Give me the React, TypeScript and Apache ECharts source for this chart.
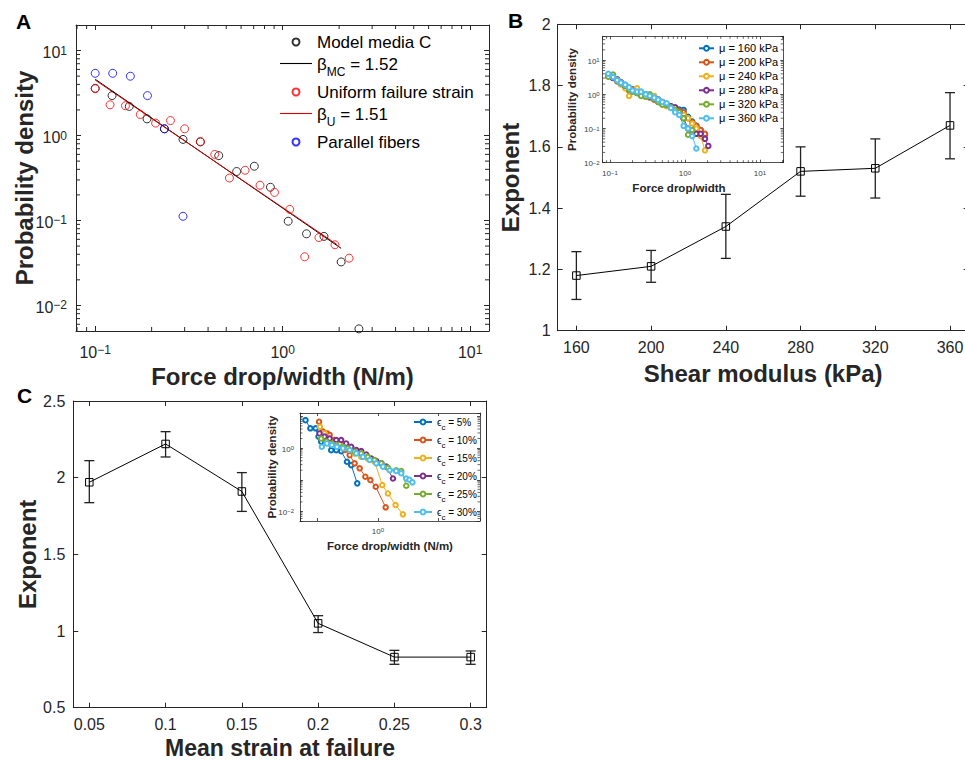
import React, { useEffect, useRef } from 'react';
import * as echarts from 'echarts';

const FONT = '"Liberation Sans", Arial, Helvetica, sans-serif';
const AX = '#262626';

// ---------- Panel A ----------
const aModelX = [0.1, 0.123, 0.152, 0.189, 0.234, 0.294, 0.364, 0.456, 0.568, 0.706, 0.86, 1.07, 1.34, 1.66, 2.05, 2.55];
const aModelY = [3.6, 2.95, 2.2, 1.57, 1.2, 0.9, 0.84, 0.58, 0.377, 0.435, 0.246, 0.098, 0.0697, 0.065, 0.0325, 0.0053];
const aUniformX = [0.1, 0.12, 0.145, 0.174, 0.21, 0.252, 0.3, 0.364, 0.434, 0.52, 0.63, 0.757, 0.905, 1.09, 1.31, 1.56, 1.9, 2.26];
const aUniformY = [3.55, 2.3, 2.24, 1.77, 1.4, 1.5, 1.2, 0.85, 0.6, 0.316, 0.39, 0.26, 0.214, 0.135, 0.0374, 0.063, 0.0518, 0.036];
const aParallelX = [0.1, 0.124, 0.154, 0.19, 0.234, 0.294];
const aParallelY = [5.4, 5.4, 4.99, 2.95, 1.2, 0.112];
const aFitMCX = [0.1, 2.05];
const aFitMCY = [4.6, 0.047];
const aFitUX = [0.1, 1.95];
const aFitUY = [4.5, 0.052];
const aMinorX = [0.08, 0.09, 0.2, 0.3, 0.4, 0.5, 0.6, 0.7, 0.8, 0.9, 2, 3, 4, 5, 6, 7, 8, 9];
const aMinorY = [0.006, 0.007, 0.008, 0.009, 0.02, 0.03, 0.04, 0.05, 0.06, 0.07, 0.08, 0.09, 0.2, 0.3, 0.4, 0.5, 0.6, 0.7, 0.8, 0.9, 2, 3, 4, 5, 6, 7, 8, 9];

// ---------- Panel B ----------
const bX = [160, 200, 240, 280, 320, 360];
const bExp = [1.18, 1.21, 1.34, 1.52, 1.53, 1.67];
const bLo = [1.102, 1.158, 1.236, 1.439, 1.433, 1.561];
const bHi = [1.258, 1.262, 1.445, 1.6, 1.626, 1.777];
const bTicks = [160, 200, 240, 280, 320, 360];

// Panel B inset
const binsB = [0.095, 0.11, 0.125, 0.14, 0.16, 0.18, 0.2, 0.23, 0.26, 0.3, 0.34, 0.39, 0.44, 0.5, 0.57, 0.65, 0.74, 0.84, 0.96, 1.1, 1.25, 1.42, 1.62, 1.85, 2.05];
const mu160 = [3.6, 3.0, 2.6, 2.0, 1.9, 1.5, 1.4, 1.2, 1.0, 1.0, 0.8, 0.8, 0.6, 0.55, 0.5, 0.45, 0.38, 0.36, 0.35, 0.22, 0.16, 0.12, 0.09, 0.066];
const mu200 = [3.5, 3.1, 2.4, 2.3, 1.7, 1.3, 1.4, 1.1, 1.1, 0.9, 0.9, 0.7, 0.7, 0.6, 0.5, 0.42, 0.4, 0.33, 0.3, 0.2, 0.15, 0.12, 0.09, 0.07];
const mu240 = [3.7, 3.3, 2.8, 2.0, 1.5, 0.9, 1.3, 1.5, 1.0, 0.85, 0.8, 0.9, 0.62, 0.52, 0.45, 0.4, 0.36, 0.28, 0.25, 0.2, 0.14, 0.1, 0.06, 0.023];
const mu280 = [3.4, 3.0, 2.7, 2.2, 1.8, 1.5, 1.3, 1.1, 1.05, 0.95, 0.85, 0.75, 0.7, 0.55, 0.5, 0.45, 0.42, 0.3, 0.2, 0.1, 0.075, 0.07, 0.07, 0.05, 0.031];
const mu320 = [3.3, 3.8, 2.5, 2.1, 1.8, 1.4, 1.2, 1.1, 0.9, 0.85, 1.0, 0.75, 0.6, 0.5, 0.5, 0.42, 0.35, 0.3, 0.2, 0.066, 0.09];
const mu360 = [4.0, 3.2, 2.6, 2.2, 1.9, 1.6, 1.3, 1.2, 1.2, 1.0, 0.9, 0.8, 0.7, 0.6, 0.55, 0.4, 0.3, 0.25, 0.12, 0.1, 0.06, 0.026];
const bInNames = ['\u03bc = 160 kPa', '\u03bc = 200 kPa', '\u03bc = 240 kPa', '\u03bc = 280 kPa', '\u03bc = 320 kPa', '\u03bc = 360 kPa'];
const bInMinorX = [0.09, 0.2, 0.3, 0.4, 0.5, 0.6, 0.7, 0.8, 0.9, 2, 3, 4, 5, 6, 7, 8, 9, 20];
const bInMinorY = [0.02, 0.03, 0.04, 0.05, 0.06, 0.07, 0.08, 0.09, 0.2, 0.3, 0.4, 0.5, 0.6, 0.7, 0.8, 0.9, 2, 3, 4, 5, 6, 7, 8, 9, 20, 30, 40];

// ---------- Panel C ----------
const cX = [0.05, 0.1, 0.15, 0.2, 0.25, 0.3];
const cExp = [1.97, 2.22, 1.91, 1.05, 0.83, 0.83];
const cLo = [1.837, 2.135, 1.78, 0.99, 0.783, 0.783];
const cHi = [2.111, 2.3, 2.033, 1.1, 0.874, 0.87];
const cTicks = [0.05, 0.1, 0.15, 0.2, 0.25, 0.3];

// Panel C inset
const ec5X = [0.064, 0.077, 0.094, 0.105, 0.116, 0.144, 0.17, 0.206, 0.248, 0.309, 0.363, 0.456];
const ec5Y = [7.6, 4.2, 4.2, 2.3, 1.6, 1.5, 0.86, 0.86, 0.8, 0.37, 0.29, 0.077];
const ec10X = [0.107, 0.124, 0.145, 0.16, 0.193, 0.233, 0.283, 0.342, 0.413, 0.5, 0.62, 0.75, 0.92, 1.34];
const ec10Y = [6.8, 3.3, 2.9, 2.6, 1.8, 1.25, 0.87, 0.6, 0.33, 0.23, 0.125, 0.098, 0.06, 0.0135];
const ec15X = [0.111, 0.132, 0.16, 0.193, 0.233, 0.283, 0.342, 0.413, 0.53, 0.68, 0.88, 1.18, 1.46, 1.95, 2.58];
const ec15Y = [4.7, 2.9, 2.0, 1.6, 1.4, 1.25, 0.87, 0.68, 0.53, 0.47, 0.37, 0.068, 0.037, 0.016, 0.0081];
const ec20X = [0.109, 0.132, 0.16, 0.206, 0.248, 0.3, 0.363, 0.44, 0.53, 0.643, 0.777, 0.94, 1.14, 1.37, 1.77];
const ec20Y = [2.9, 2.3, 2.0, 1.8, 1.8, 1.4, 1.1, 0.87, 0.8, 0.63, 0.47, 0.39, 0.33, 0.26, 0.11];
const ec25X = [0.116, 0.141, 0.17, 0.206, 0.265, 0.32, 0.413, 0.53, 0.68, 0.88, 1.14, 1.46, 2.0, 2.42, 2.93];
const ec25Y = [2.0, 1.6, 1.4, 1.25, 1.1, 0.98, 0.77, 0.68, 0.53, 0.42, 0.33, 0.24, 0.2, 0.19, 0.065];
const ec30X = [0.119, 0.144, 0.174, 0.211, 0.265, 0.342, 0.44, 0.567, 0.73, 0.94, 1.21, 1.56, 2.0, 2.42, 2.93, 3.3, 3.7];
const ec30Y = [1.1, 1.4, 1.25, 1.1, 0.98, 0.87, 0.68, 0.53, 0.42, 0.33, 0.26, 0.2, 0.19, 0.16, 0.11, 0.1, 0.083];
const cInNames = ['ec5', 'ec10', 'ec15', 'ec20', 'ec25', 'ec30'];
const cInLabels = ['5%', '10%', '15%', '20%', '25%', '30%'];
const cInMinorY = [0.006, 0.007, 0.008, 0.009, 0.02, 0.03, 0.04, 0.05, 0.06, 0.07, 0.08, 0.09, 0.2, 0.3, 0.4, 0.5, 0.6, 0.7, 0.8, 0.9, 2, 3, 4, 5, 6, 7, 8, 9];

const MATLAB = ['#0072BD', '#D95319', '#EDB120', '#7E2F8E', '#77AC30', '#4DBEEE'];

function pairs(xs: number[], ys: number[]) {
  return ys.map((y, i) => [xs[i], y]);
}

function logFmt(filter?: (e: number) => boolean) {
  return (v: number) => {
    const e = Math.log10(v);
    const r = Math.round(e);
    if (Math.abs(e - r) > 1e-6) return '';
    if (filter && !filter(r)) return '';
    return `{b|10}{s|${r < 0 ? '\u2212' + -r : r}}`;
  };
}

const richMain = {
  b: { fontFamily: FONT, fontSize: 16, lineHeight: 16, padding: [4, 0, 0, 0], color: AX },
  s: { fontFamily: FONT, fontSize: 12, lineHeight: 12, verticalAlign: 'top', padding: [2, 0, 0, 0], color: AX },
};
const richInset = {
  b: { fontFamily: FONT, fontSize: 8, lineHeight: 8, padding: [2, 0, 0, 0], color: '#404040' },
  s: { fontFamily: FONT, fontSize: 6, lineHeight: 6, verticalAlign: 'top', padding: [1, 0, 0, 0], color: '#404040' },
};

function tick(len: number, w = 1, custom?: number[]) {
  const t: any = { show: true, inside: true, length: len, lineStyle: { color: AX, width: w } };
  if (custom) t.customValues = custom;
  return t;
}
function line(w = 1) {
  return { show: true, onZero: false, lineStyle: { color: AX, width: w } };
}
function nameStyle(size: number, extra: any = {}) {
  return { fontFamily: FONT, fontSize: size, fontWeight: 'bold', color: AX, ...extra };
}

function errorSeries(xs: number[], lo: number[], hi: number[], xi: number, yi: number) {
  return {
    type: 'custom',
    xAxisIndex: xi,
    yAxisIndex: yi,
    silent: true,
    z: 3,
    encode: { x: 0, y: [1, 2] },
    data: xs.map((v, i) => [v, lo[i], hi[i]]),
    renderItem: (params: any, api: any) => {
      const xv = api.value(0);
      const pl = api.coord([xv, api.value(1)]);
      const ph = api.coord([xv, api.value(2)]);
      const w = 5;
      const style = { stroke: '#222', lineWidth: 1.3 };
      return {
        type: 'group',
        children: [
          { type: 'line', shape: { x1: pl[0], y1: pl[1], x2: ph[0], y2: ph[1] }, style },
          { type: 'line', shape: { x1: pl[0] - w, y1: pl[1], x2: pl[0] + w, y2: pl[1] }, style },
          { type: 'line', shape: { x1: ph[0] - w, y1: ph[1], x2: ph[0] + w, y2: ph[1] }, style },
        ],
      };
    },
  };
}

function minorTicks(xi: number, yi: number, xs: number[], ys: number[], len: number, w = 1) {
  const data = [...xs.map((v) => [v, 1, 0]), ...ys.map((v) => [1, v, 1])];
  return {
    type: 'custom',
    xAxisIndex: xi,
    yAxisIndex: yi,
    silent: true,
    clip: false,
    z: 4,
    encode: { x: 0, y: 1 },
    data,
    renderItem: (params: any, api: any) => {
      const cs = params.coordSys;
      const p = api.coord([api.value(0), api.value(1)]);
      const style = { stroke: AX, lineWidth: w };
      if (api.value(2) === 0) {
        return {
          type: 'group',
          children: [
            { type: 'line', shape: { x1: p[0], y1: cs.y + cs.height, x2: p[0], y2: cs.y + cs.height - len }, style },
            { type: 'line', shape: { x1: p[0], y1: cs.y, x2: p[0], y2: cs.y + len }, style },
          ],
        };
      }
      return {
        type: 'group',
        children: [
          { type: 'line', shape: { x1: cs.x, y1: p[1], x2: cs.x + len, y2: p[1] }, style },
          { type: 'line', shape: { x1: cs.x + cs.width, y1: p[1], x2: cs.x + cs.width - len, y2: p[1] }, style },
        ],
      };
    },
  };
}

function buildOption() {
  const grids = [
    { left: 76, top: 25, width: 413, height: 306 },
    { left: 557.7, top: 24.3, width: 411, height: 306.4 },
    { left: 73.3, top: 401, width: 413.4, height: 306.7 },
    { left: 602.7, top: 36.3, width: 180.6, height: 126.4, show: true, backgroundColor: '#fff', borderWidth: 0 },
    { left: 300, top: 413, width: 180, height: 108, show: true, backgroundColor: '#fff', borderWidth: 0 },
  ].map((g) => ({ ...g, containLabel: false, outerBoundsMode: 'none' }));

  const common = { splitLine: { show: false }, minorTick: { show: false }, nameMoveOverlap: false };

  const xAxis: any[] = [
    // 0 A bottom
    {
      ...common, type: 'log', logBase: 10, gridIndex: 0, position: 'bottom', min: 0.079, max: 12.6,
      axisLine: line(), axisTick: tick(5),
      axisLabel: { formatter: logFmt(), rich: richMain, margin: 11 },
      name: 'Force drop/width (N/m)', nameLocation: 'middle', nameGap: 33, nameTextStyle: nameStyle(24),
    },
    // 1 A top
    { ...common, type: 'log', logBase: 10, gridIndex: 0, position: 'top', min: 0.079, max: 12.6, axisLine: line(), axisTick: tick(5), axisLabel: { show: false } },
    // 2 B bottom
    {
      ...common, type: 'value', gridIndex: 1, position: 'bottom', min: 150, max: 370,
      axisLine: line(), axisTick: tick(5, 1, bTicks),
      axisLabel: { customValues: bTicks, fontFamily: FONT, fontSize: 16, color: AX, margin: 9 },
      name: 'Shear modulus (kPa)', nameLocation: 'middle', nameGap: 31, nameTextStyle: nameStyle(24),
    },
    // 3 B top
    { ...common, type: 'value', gridIndex: 1, position: 'top', min: 150, max: 370, axisLine: line(), axisTick: tick(5, 1, bTicks), axisLabel: { show: false } },
    // 4 C bottom
    {
      ...common, type: 'value', gridIndex: 2, position: 'bottom', min: 0.0395, max: 0.3105,
      axisLine: line(), axisTick: tick(5, 1, cTicks),
      axisLabel: { customValues: cTicks, fontFamily: FONT, fontSize: 16, color: AX, margin: 9 },
      name: 'Mean strain at failure', nameLocation: 'middle', nameGap: 30, nameTextStyle: nameStyle(23, { lineHeight: 20 }),
    },
    // 5 C top
    { ...common, type: 'value', gridIndex: 2, position: 'top', min: 0.0395, max: 0.3105, axisLine: line(), axisTick: tick(5, 1, cTicks), axisLabel: { show: false } },
    // 6 B inset bottom
    {
      ...common, type: 'log', logBase: 10, gridIndex: 3, position: 'bottom', min: 0.08, max: 20.5,
      axisLine: line(0.8), axisTick: tick(3, 0.8),
      axisLabel: { formatter: logFmt(), rich: richInset, margin: 6 },
      name: 'Force drop/width', nameLocation: 'middle', nameGap: 19, nameTextStyle: nameStyle(11.5, { padding: [0, 28, 0, 0] }),
    },
    // 7 B inset top
    { ...common, type: 'log', logBase: 10, gridIndex: 3, position: 'top', min: 0.08, max: 20.5, axisLine: line(0.8), axisTick: tick(3, 0.8), axisLabel: { show: false } },
    // 8 C inset bottom
    {
      ...common, type: 'log', logBase: 10, gridIndex: 4, position: 'bottom', min: 0.052, max: 48,
      axisLine: line(0.8), axisTick: tick(3, 0.8),
      axisLabel: { formatter: logFmt((e) => e === 0), rich: richInset, margin: 5 },
      name: 'Force drop/width (N/m)', nameLocation: 'middle', nameGap: 19, nameTextStyle: nameStyle(11.5),
    },
    // 9 C inset top
    { ...common, type: 'log', logBase: 10, gridIndex: 4, position: 'top', min: 0.052, max: 48, axisLine: line(0.8), axisTick: tick(3, 0.8), axisLabel: { show: false } },
  ];

  const yAxis: any[] = [
    // 0 A left
    {
      ...common, type: 'log', logBase: 10, gridIndex: 0, position: 'left', min: 0.005, max: 20,
      axisLine: line(), axisTick: tick(5),
      axisLabel: { formatter: logFmt(), rich: richMain, margin: 9 },
      name: 'Probability density', nameLocation: 'middle', nameGap: 40, nameTextStyle: nameStyle(24),
    },
    // 1 A right
    { ...common, type: 'log', logBase: 10, gridIndex: 0, position: 'right', min: 0.005, max: 20, axisLine: line(), axisTick: tick(5), axisLabel: { show: false } },
    // 2 B left
    {
      ...common, type: 'value', gridIndex: 1, position: 'left', min: 1, max: 2, interval: 0.2,
      axisLine: line(), axisTick: tick(5),
      axisLabel: { fontFamily: FONT, fontSize: 16, color: AX, margin: 7 },
      name: 'Exponent', nameLocation: 'middle', nameGap: 35, nameTextStyle: nameStyle(24),
    },
    // 3 B right
    { ...common, type: 'value', gridIndex: 1, position: 'right', min: 1, max: 2, interval: 0.2, axisLine: line(), axisTick: tick(5), axisLabel: { show: false } },
    // 4 C left
    {
      ...common, type: 'value', gridIndex: 2, position: 'left', min: 0.5, max: 2.5, interval: 0.5,
      axisLine: line(), axisTick: tick(5),
      axisLabel: { fontFamily: FONT, fontSize: 16, color: AX, margin: 8 },
      name: 'Exponent', nameLocation: 'middle', nameGap: 34, nameTextStyle: nameStyle(24),
    },
    // 5 C right
    { ...common, type: 'value', gridIndex: 2, position: 'right', min: 0.5, max: 2.5, interval: 0.5, axisLine: line(), axisTick: tick(5), axisLabel: { show: false } },
    // 6 B inset left
    {
      ...common, type: 'log', logBase: 10, gridIndex: 3, position: 'left', min: 0.01, max: 50,
      axisLine: line(0.8), axisTick: tick(3, 0.8),
      axisLabel: { formatter: logFmt(), rich: richInset, margin: 3 },
      name: 'Probability density', nameLocation: 'middle', nameGap: 25, nameTextStyle: nameStyle(11.5),
    },
    // 7 B inset right
    { ...common, type: 'log', logBase: 10, gridIndex: 3, position: 'right', min: 0.01, max: 50, axisLine: line(0.8), axisTick: tick(3, 0.8), axisLabel: { show: false } },
    // 8 C inset left
    {
      ...common, type: 'log', logBase: 10, gridIndex: 4, position: 'left', min: 0.005, max: 12.8,
      axisLine: line(0.8), axisTick: tick(3, 0.8),
      axisLabel: { formatter: logFmt((e) => e % 2 === 0), rich: richInset, margin: 6 },
      name: 'Probability density', nameLocation: 'middle', nameGap: 22, nameTextStyle: nameStyle(11.5),
    },
    // 9 C inset right
    { ...common, type: 'log', logBase: 10, gridIndex: 4, position: 'right', min: 0.005, max: 12.8, axisLine: line(0.8), axisTick: tick(3, 0.8), axisLabel: { show: false } },
  ];

  const hollow = (c: string) => ({ color: 'rgba(255,255,255,0)', borderColor: c, borderWidth: 1 });

  const series: any[] = [
    // Panel A
    { name: 'Model media C', type: 'scatter', xAxisIndex: 0, yAxisIndex: 0, symbol: 'circle', symbolSize: 8, itemStyle: hollow('#000'), data: pairs(aModelX, aModelY), z: 3 },
    { name: 'beta_MC', type: 'line', xAxisIndex: 0, yAxisIndex: 0, symbol: 'none', showSymbol: false, lineStyle: { color: '#000', width: 1 }, itemStyle: { color: '#000' }, data: pairs(aFitMCX, aFitMCY), z: 3 },
    { name: 'Uniform failure strain', type: 'scatter', xAxisIndex: 0, yAxisIndex: 0, symbol: 'circle', symbolSize: 8, itemStyle: hollow('#ff0000'), data: pairs(aUniformX, aUniformY), z: 3 },
    { name: 'beta_U', type: 'line', xAxisIndex: 0, yAxisIndex: 0, symbol: 'none', showSymbol: false, lineStyle: { color: '#e00000', width: 1 }, itemStyle: { color: '#e00000' }, data: pairs(aFitUX, aFitUY), z: 3 },
    { name: 'Parallel fibers', type: 'scatter', xAxisIndex: 0, yAxisIndex: 0, symbol: 'circle', symbolSize: 8, itemStyle: hollow('#0000ff'), data: pairs(aParallelX, aParallelY), z: 3 },
    minorTicks(0, 0, aMinorX, aMinorY, 4),
    // Panel B
    errorSeries(bX, bLo, bHi, 2, 2),
    { name: 'bMain', type: 'line', xAxisIndex: 2, yAxisIndex: 2, symbol: 'rect', symbolSize: 7.5, itemStyle: hollow('#000'), lineStyle: { color: '#000', width: 1 }, data: pairs(bX, bExp), z: 4 },
    // Panel C
    errorSeries(cX, cLo, cHi, 4, 4),
    { name: 'cMain', type: 'line', xAxisIndex: 4, yAxisIndex: 4, symbol: 'rect', symbolSize: 7.5, itemStyle: hollow('#000'), lineStyle: { color: '#000', width: 1 }, data: pairs(cX, cExp), z: 4 },
  ];

  // B inset
  const bInY = [mu160, mu200, mu240, mu280, mu320, mu360];
  bInY.forEach((ys, i) => {
    series.push({
      name: bInNames[i], type: 'line', xAxisIndex: 6, yAxisIndex: 6, symbol: 'emptyCircle', symbolSize: 4.5,
      itemStyle: { color: MATLAB[i], borderWidth: 0.9 }, lineStyle: { color: MATLAB[i], width: 1 },
      data: pairs(binsB, ys), z: 5,
    });
  });
  series.push(minorTicks(6, 6, bInMinorX, bInMinorY, 2.5, 0.7));

  // C inset
  const cInX = [ec5X, ec10X, ec15X, ec20X, ec25X, ec30X];
  const cInY = [ec5Y, ec10Y, ec15Y, ec20Y, ec25Y, ec30Y];
  cInX.forEach((xs, i) => {
    series.push({
      name: cInNames[i], type: 'line', xAxisIndex: 8, yAxisIndex: 8, symbol: 'emptyCircle', symbolSize: 4.5,
      itemStyle: { color: MATLAB[i], borderWidth: 0.9 }, lineStyle: { color: MATLAB[i], width: 1 },
      data: pairs(xs, cInY[i]), z: 5,
    });
  });
  series.push(minorTicks(8, 8, [], cInMinorY, 2.5, 0.7));

  const lineIcon = 'path://M0,0 L32,0 L32,1.1 L0,1.1 Z';
  const legendALabels: Record<string, string> = {
    'Model media C': 'Model media C',
    beta_MC: '{m|\u03b2}{sub|MC}{m| = 1.52}',
    'Uniform failure strain': 'Uniform failure strain',
    beta_U: '{m|\u03b2}{sub|U}{m| = 1.51}',
    'Parallel fibers': 'Parallel fibers',
  };

  const legend = [
    {
      orient: 'vertical', left: 280, top: 32.5, padding: 0, itemWidth: 32, itemHeight: 7, itemGap: 4.5, selectedMode: false,
      data: [
        { name: 'Model media C', icon: 'circle' },
        { name: 'beta_MC', icon: lineIcon },
        { name: 'Uniform failure strain', icon: 'circle' },
        { name: 'beta_U', icon: lineIcon },
        { name: 'Parallel fibers', icon: 'circle' },
      ],
      formatter: (n: string) => legendALabels[n],
      textStyle: {
        fontFamily: FONT, fontSize: 17, lineHeight: 19, color: '#000',
        rich: {
          m: { fontFamily: FONT, fontSize: 17, lineHeight: 15, verticalAlign: 'top', color: '#000' },
          sub: { fontFamily: FONT, fontSize: 12, lineHeight: 12, verticalAlign: 'top', padding: [10, 0, 0, 0], color: '#000' },
        },
      },
    },
    {
      orient: 'vertical', left: 698, top: 42.3, padding: 0, itemWidth: 15, itemHeight: 6, itemGap: 2, selectedMode: false,
      data: bInNames,
      textStyle: { fontFamily: FONT, fontSize: 11, lineHeight: 12, color: '#000' },
    },
    {
      orient: 'vertical', left: 413, top: 417, padding: 0, itemWidth: 18, itemHeight: 6, itemGap: 4, selectedMode: false,
      data: cInNames,
      formatter: (n: string) => `{e|\u03f5}{sub|c}{e| = ${cInLabels[cInNames.indexOf(n)]}}`,
      textStyle: {
        fontFamily: FONT, fontSize: 10, lineHeight: 10, color: '#000',
        rich: {
          e: { fontFamily: FONT, fontSize: 10, lineHeight: 10, verticalAlign: 'top', color: '#000' },
          sub: { fontFamily: FONT, fontSize: 8, lineHeight: 8, verticalAlign: 'top', padding: [6, 0, 0, 0], color: '#000' },
        },
      },
    },
  ];

  const letter = (t: string, x: number, y: number) => ({
    type: 'text', x, y, silent: true,
    style: { text: t, fontFamily: FONT, fontSize: 21, fontWeight: 'bold', fill: '#000', textAlign: 'left', textVerticalAlign: 'middle', verticalAlign: 'middle' },
  });

  return {
    animation: false,
    backgroundColor: '#fff',
    grid: grids,
    xAxis,
    yAxis,
    series,
    legend,
    graphic: [letter('A', 16, 21), letter('B', 508, 20.5), letter('C', 17, 395.5)],
  };
}

export default function App() {
  const ref = useRef<HTMLDivElement>(null);
  useEffect(() => {
    if (!ref.current) return;
    const chart = echarts.init(ref.current, null, { renderer: 'svg' });
    chart.setOption(buildOption() as any);
    return () => chart.dispose();
  }, []);
  return <div ref={ref} style={{ position: 'absolute', left: 0, top: 0, width: 965, height: 762 }} />;
}
